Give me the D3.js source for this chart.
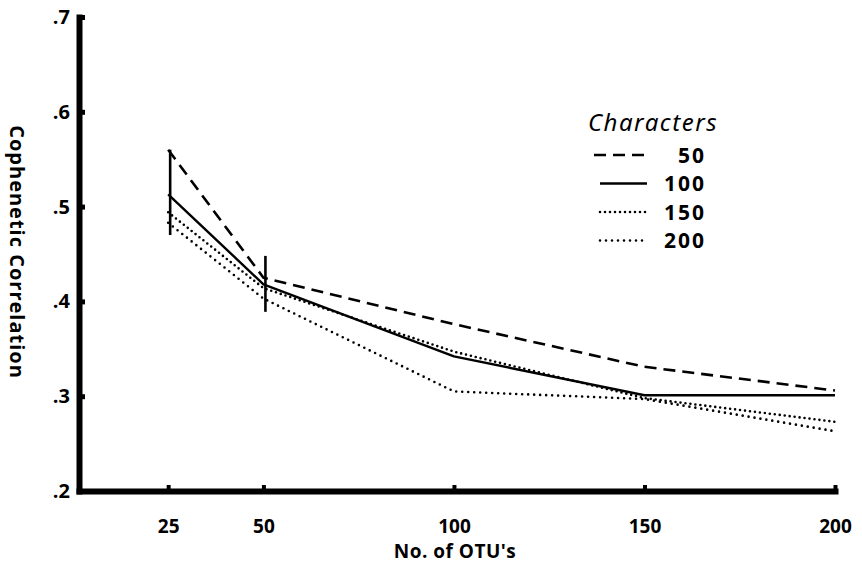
<!DOCTYPE html>
<html>
<head>
<meta charset="utf-8">
<script src="https://cdn.jsdelivr.net/npm/d3@7"></script>
<style>
  body { margin: 0; background: #fff; }
  svg { display: block; }
  text { font-family: "Open Sans", sans-serif; fill: #000; }
</style>
</head>
<body>
<svg id="chart" width="862" height="566"></svg>
<script>
// data
const otus = [25, 50, 100, 150, 200];
const chars50 = [0.560, 0.425, 0.376, 0.331, 0.306];
const chars100 = [0.513, 0.418, 0.342, 0.301, 0.301];
const chars150 = [0.494, 0.414, 0.347, 0.298, 0.273];
const chars200 = [0.483, 0.403, 0.305, 0.297, 0.263];
const barAt = [25, 50];
const barLow = [0.470, 0.389];
const barHigh = [0.560, 0.448];
const xTicks = [25, 50, 100, 150, 200];
const yTicks = [0.2, 0.3, 0.4, 0.5, 0.6, 0.7];
const yTickLabels = ['.2', '.3', '.4', '.5', '.6', '.7'];
const legendLabels = ['50', '100', '150', '200'];

let series = [
    {name: legendLabels[0], values: chars50, dash: '12,7', cap: 'butt', width: 2.6},
    {name: legendLabels[1], values: chars100, dash: null, cap: 'butt', width: 2.4},
    {name: legendLabels[2], values: chars150, dash: '0,5', cap: 'round', width: 2.6},
    {name: legendLabels[3], values: chars200, dash: '0,6', cap: 'round', width: 2.6}
];

let svg = d3.select("#chart");

let x = d3.scaleLinear().domain([1.6, 200]).range([79, 835]);
let y = d3.scaleLinear().domain([0.2, 0.7]).range([491, 17]);

// axes
let gx = svg.append("g")
    .attr("transform", "translate(0," + y(0.2) + ")")
    .call(d3.axisBottom(x).tickValues(xTicks).tickSize(-6).tickSizeOuter(0).tickPadding(29));
gx.select(".domain").attr("stroke-width", 6).attr("stroke-linecap", "square");
gx.selectAll(".tick line").attr("stroke-width", 4);
gx.selectAll(".tick text")
    .style("font-size", "19px").style("font-weight", 700);

let gy = svg.append("g")
    .attr("transform", "translate(" + x(1.6) + ",0)")
    .call(d3.axisLeft(y).tickValues(yTicks).tickSize(-6).tickSizeOuter(0).tickPadding(9)
        .tickFormat((d, i) => yTickLabels[i]));
gy.select(".domain").attr("stroke-width", 6).attr("stroke-linecap", "square");
gy.selectAll(".tick line").attr("stroke-width", 5)
    .filter(d => d === 0.2).remove();
gy.selectAll(".tick text")
    .style("font-size", "20px").style("font-weight", 700);

// axis titles
svg.append("text")
    .attr("x", 455).attr("y", 558)
    .attr("text-anchor", "middle")
    .style("font-size", "19px").style("font-weight", 700)
    .style("letter-spacing", "0.5px")
    .text("No. of OTU's");

svg.append("text")
    .attr("transform", "translate(10,252) rotate(90)")
    .attr("text-anchor", "middle")
    .style("font-size", "20px").style("font-weight", 700)
    .style("letter-spacing", "1px")
    .text("Cophenetic Correlation");

// range bars
svg.selectAll(".bar")
    .data(barAt)
    .enter()
    .append("line")
    .attr("class", "bar")
    .attr("x1", d => x(d) + 2)
    .attr("x2", d => x(d) + 2)
    .attr("y1", (d, i) => y(barLow[i]))
    .attr("y2", (d, i) => y(barHigh[i]))
    .attr("stroke", "#000")
    .attr("stroke-width", 2.6);

// series lines
let line = d3.line()
    .x((d, i) => x(otus[i]))
    .y(d => y(d));

svg.selectAll(".series")
    .data(series)
    .enter()
    .append("path")
    .attr("class", "series")
    .attr("d", d => line(d.values))
    .attr("fill", "none")
    .attr("stroke", "#000")
    .attr("stroke-width", d => d.width)
    .attr("stroke-linecap", d => d.cap)
    .attr("stroke-linejoin", "round")
    .attr("stroke-dasharray", d => d.dash);

// legend
let legend = svg.append("g").attr("transform", "translate(600,0)");
legend.append("text")
    .attr("x", -12).attr("y", 131)
    .style("font-family", "'Noto Sans', sans-serif")
    .style("font-style", "italic")
    .style("font-size", "24px")
    .style("letter-spacing", "1.5px")
    .text("Characters");

let rows = legend.selectAll(".row")
    .data(series)
    .enter()
    .append("g")
    .attr("class", "row")
    .attr("transform", (d, i) => "translate(0," + (155 + i * 28.5) + ")");

rows.append("line")
    .attr("x1", d => d.dash && d.cap === 'butt' ? -6 : 0)
    .attr("x2", 47)
    .attr("stroke", "#000")
    .attr("stroke-width", d => d.width)
    .attr("stroke-linecap", d => d.cap)
    .attr("stroke-dasharray", d => d.dash);

rows.append("text")
    .attr("x", 106).attr("dy", "0.36em")
    .attr("text-anchor", "end")
    .style("font-size", "21px").style("font-weight", 700)
    .style("letter-spacing", "2px")
    .text(d => d.name);
</script>
</body>
</html>
